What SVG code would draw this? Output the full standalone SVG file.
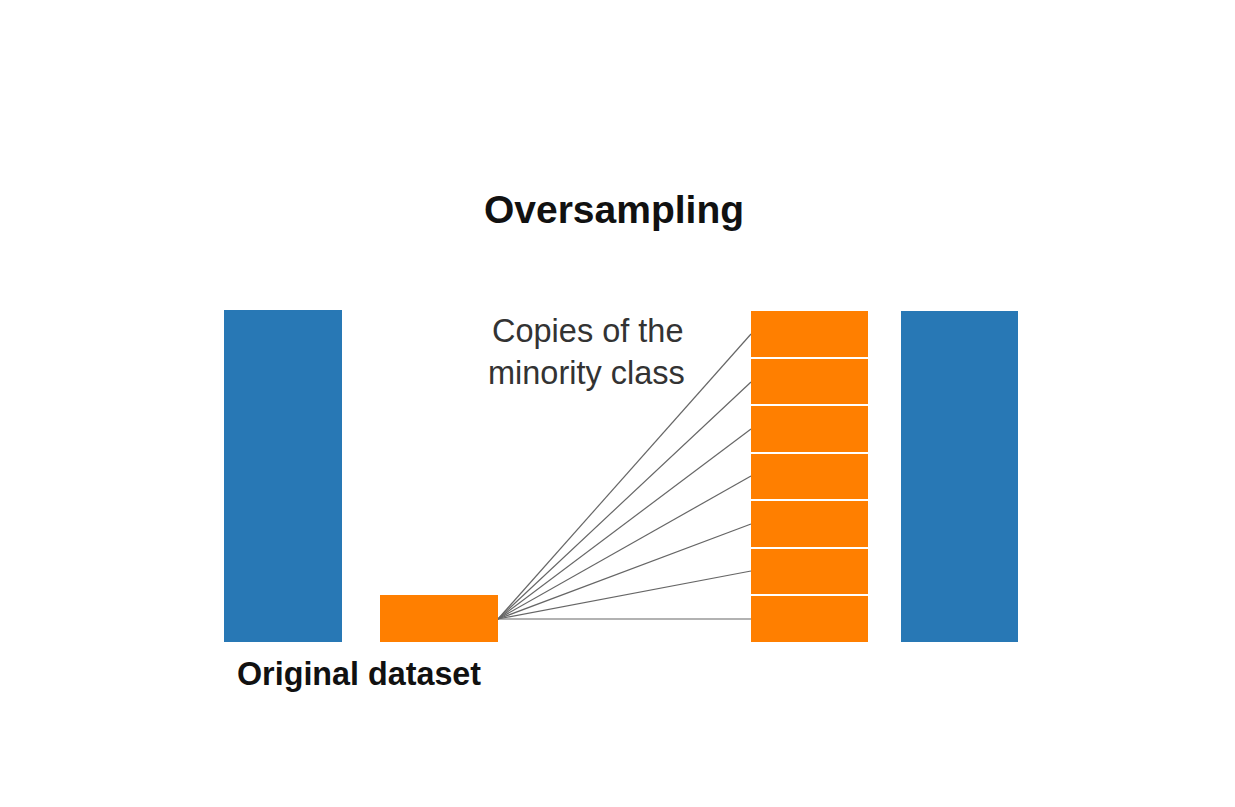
<svg xmlns="http://www.w3.org/2000/svg" width="1235" height="807" viewBox="0 0 1235 807">
<style>
.blue{fill:#2878b5}
.orange{fill:#ff7f00}
.conn{stroke:#666;stroke-width:1.2;fill:none}
.title{font-family:"Liberation Sans",Arial,sans-serif;font-weight:bold;fill:#111}
.label{font-family:"Liberation Sans",Arial,sans-serif;fill:#333}
</style>
<rect width="1235" height="807" fill="#fff"/>
<text class="title" x="614" y="223" font-size="39" text-anchor="middle">Oversampling</text>
<g id="connectors">
<line class="conn" x1="498" y1="619" x2="751" y2="334"/>
<line class="conn" x1="498" y1="619" x2="751" y2="382"/>
<line class="conn" x1="498" y1="619" x2="751" y2="429"/>
<line class="conn" x1="498" y1="619" x2="751" y2="476"/>
<line class="conn" x1="498" y1="619" x2="751" y2="524"/>
<line class="conn" x1="498" y1="619" x2="751" y2="571"/>
<line class="conn" x1="498" y1="619" x2="751" y2="619"/>
</g>
<g id="original-majority"><rect class="blue" x="224" y="310" width="118" height="332"/></g>
<g id="original-minority"><rect class="orange" x="380" y="595" width="118" height="47"/></g>
<g id="copies">
<rect class="orange" x="751" y="311" width="117" height="46"/>
<rect class="orange" x="751" y="359" width="117" height="45"/>
<rect class="orange" x="751" y="406" width="117" height="46"/>
<rect class="orange" x="751" y="454" width="117" height="45"/>
<rect class="orange" x="751" y="501" width="117" height="46"/>
<rect class="orange" x="751" y="549" width="117" height="45"/>
<rect class="orange" x="751" y="596" width="117" height="46"/>
</g>
<g id="resampled-majority"><rect class="blue" x="901" y="311" width="117" height="331"/></g>
<g id="copies-label"><text class="label" font-size="32.5"><tspan x="492" y="342">Copies of the</tspan><tspan x="488" y="384">minority class</tspan></text></g>
<g id="original-label"><text class="title" x="237" y="685" font-size="32.3">Original dataset</text></g>
</svg>
